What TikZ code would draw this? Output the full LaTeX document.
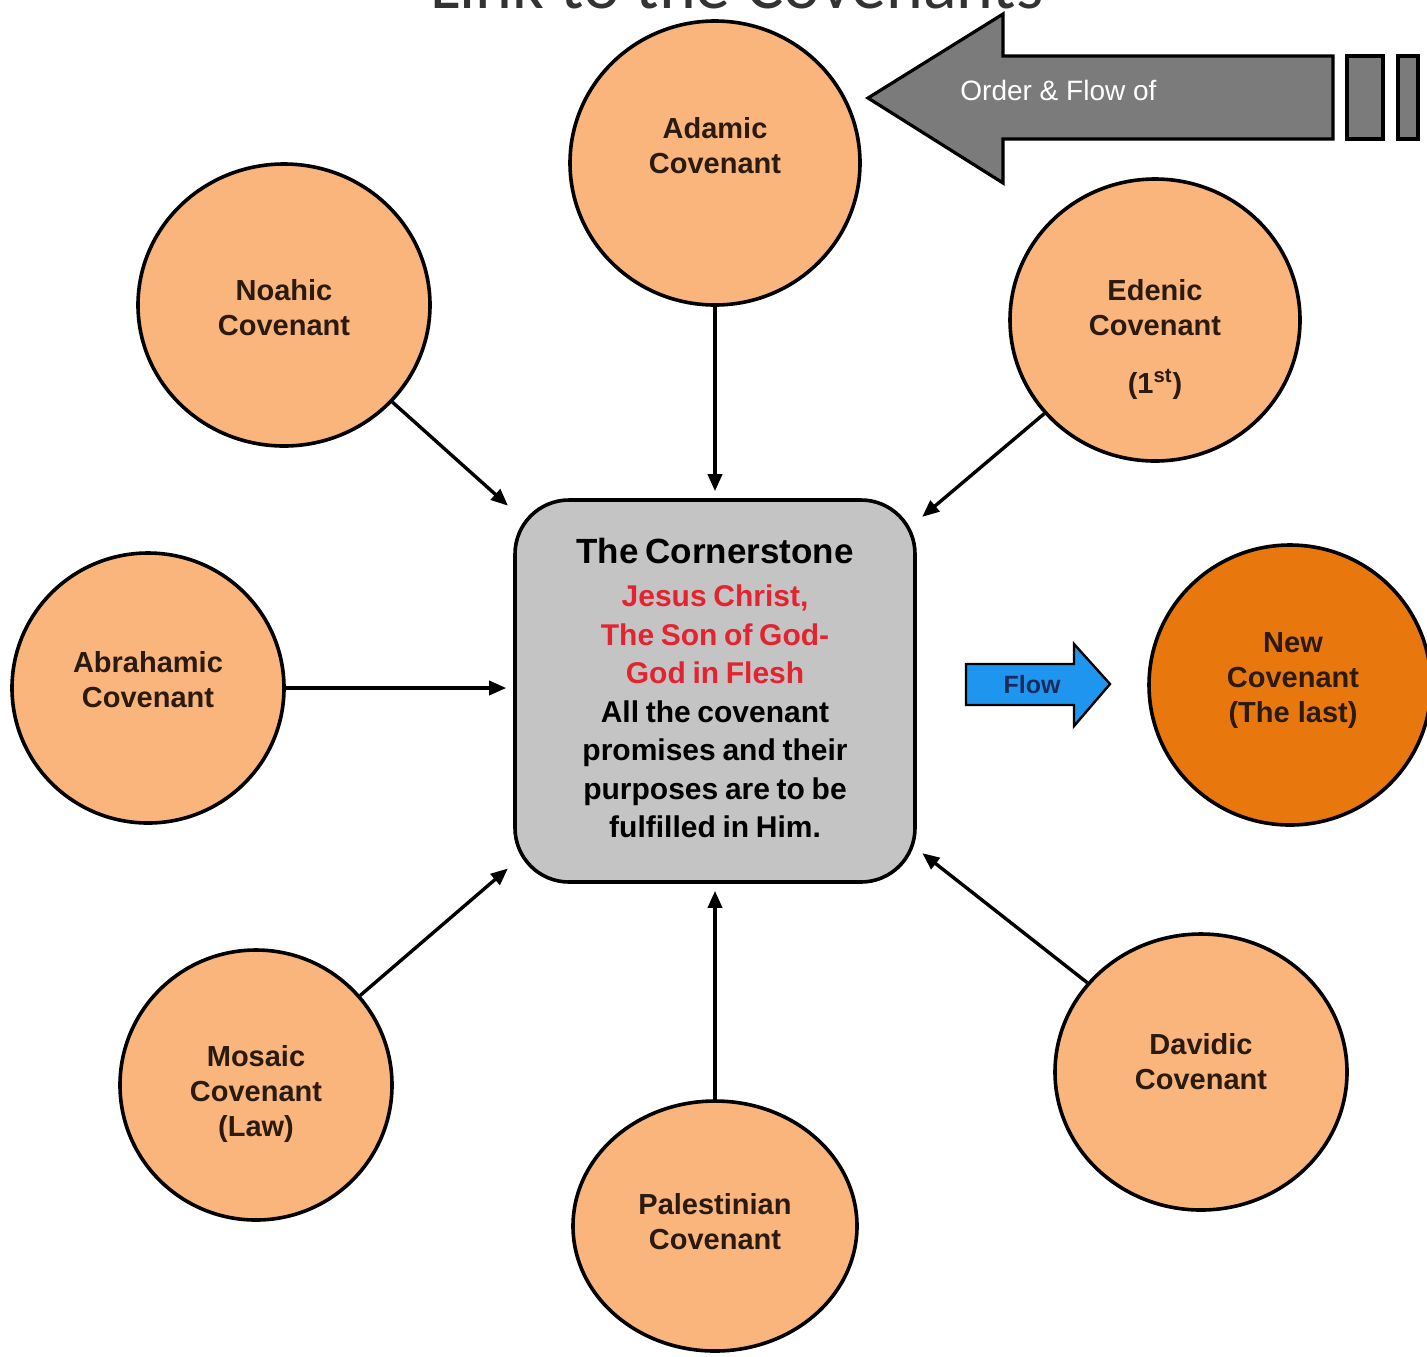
\documentclass[tikz,border=0pt]{standalone}
\usepackage{fontspec}
\setmainfont{Liberation Sans}
\newfontfamily\titlefont{Carlito}
\usetikzlibrary{arrows.meta,shapes.geometric}
\definecolor{covfill}{HTML}{F9B57B}
\definecolor{newfill}{HTML}{E8780E}
\definecolor{covink}{HTML}{2A1A10}
\definecolor{boxfill}{HTML}{C4C4C4}
\definecolor{arrowgray}{HTML}{7B7B7B}
\definecolor{flowblue}{HTML}{1E96F0}
\definecolor{flowink}{HTML}{1A2A5A}
\definecolor{christred}{HTML}{E32430}
\definecolor{titlegray}{HTML}{333333}
\begin{document}
\begin{tikzpicture}[x=0.5pt,y=-0.5pt]
\tikzset{
  cov/.style={ellipse, draw=black, line width=1.8pt, fill=covfill, inner sep=0pt},
  covtext/.style={font=\bfseries\fontsize{14.5}{17.5}\selectfont, text=covink, align=center, inner sep=0pt},
  link/.style={draw=black, line width=1.7pt, -{Triangle[length=8.5pt,width=7pt]}, shorten >=3.5pt},
  bigarrow/.style={draw=black, line width=1.6pt, fill=arrowgray},
}
\useasboundingbox (0,0) rectangle (1427,1356);
\clip (0,0) rectangle (1427,1356);
\fill[white] (0,0) rectangle (1427,1356);

% title (cut at top)
\node[font=\titlefont\fontsize{35}{40}\selectfont, text=titlegray, anchor=base] (title) at (737,8) {Link to the Covenants};

% order & flow arrow
\draw[bigarrow] (868,98) -- (1003,14) -- (1003,56) -- (1333,56) -- (1333,139) -- (1003,139) -- (1003,183) -- cycle;
\draw[bigarrow] (1347,56) rectangle (1383,139);
\draw[bigarrow] (1398,56) rectangle (1418,139);
\node[anchor=west, text=white, font=\fontsize{14}{16}\selectfont, inner sep=0pt] (ordertext) at (960,90) {Order \& Flow of};

% covenant circles
\node[cov, minimum width=145pt, minimum height=142pt] (adam) at (715,163) {};
\node[cov, minimum width=146pt, minimum height=141pt] (noah) at (284,305) {};
\node[cov, minimum width=145pt, minimum height=141pt] (eden) at (1155,320) {};
\node[cov, minimum width=136pt, minimum height=135pt] (abra) at (148,688) {};
\node[cov, minimum width=141pt, minimum height=140pt, fill=newfill] (newc) at (1290,685) {};
\node[cov, minimum width=136pt, minimum height=135pt] (mosa) at (256,1085) {};
\node[cov, minimum width=142pt, minimum height=125pt] (pale) at (715,1226) {};
\node[cov, minimum width=146pt, minimum height=138pt] (davi) at (1201,1072) {};

\node[covtext] (adamT) at (715,146) {Adamic\\Covenant};
\node[covtext] (noahT) at (284,308) {Noahic\\Covenant};
\node[covtext] (edenT) at (1155,339) {Edenic\\Covenant\\[11.5pt](1\textsuperscript{st})};
\node[covtext] (abraT) at (148,680) {Abrahamic\\Covenant};
\node[covtext] (newT) at (1293,681) {New\\Covenant\\(The last)};
\node[covtext] (mosaT) at (256,1094) {Mosaic\\Covenant\\(Law)};
\node[covtext] (paleT) at (715,1222) {Palestinian\\Covenant};
\node[covtext] (daviT) at (1201,1062) {Davidic\\Covenant};

% cornerstone box
\node[draw=black, line width=1.8pt, fill=boxfill, rounded corners=27pt, minimum width=200pt, minimum height=191pt, inner sep=0pt] (box) at (715,691) {};
\node[text width=190pt, align=center, inner sep=0pt, font=\bfseries] (boxT) at (715,688) {%
{\fontsize{17.5}{21}\selectfont The Cornerstone\par}\vspace{2.25pt}%
\fontsize{15}{19.25}\selectfont
{\color{christred}Jesus Christ,\\The Son of God-\\God in Flesh}\\
All the covenant\\promises and their\\purposes are to be\\fulfilled in Him.\par};

% flow arrow
\draw[draw=black, line width=1.2pt, fill=flowblue] (966,664) -- (1074,664) -- (1074,644) -- (1110,684) -- (1074,726) -- (1074,705) -- (966,705) -- cycle;
\node[text=flowink, font=\bfseries\fontsize{12.5}{14}\selectfont, inner sep=0pt] (flowT) at (1032,685) {Flow};

% connectors
\draw[link] (adam) -- (box);
\draw[link] (noah) -- (box);
\draw[link] (eden) -- (box);
\draw[link] (abra.east) -- (box.west |- abra.east);
\draw[link] (mosa) -- (box);
\draw[link] (pale) -- (box);
\draw[link] (davi) -- (box);
\end{tikzpicture}
\end{document}
